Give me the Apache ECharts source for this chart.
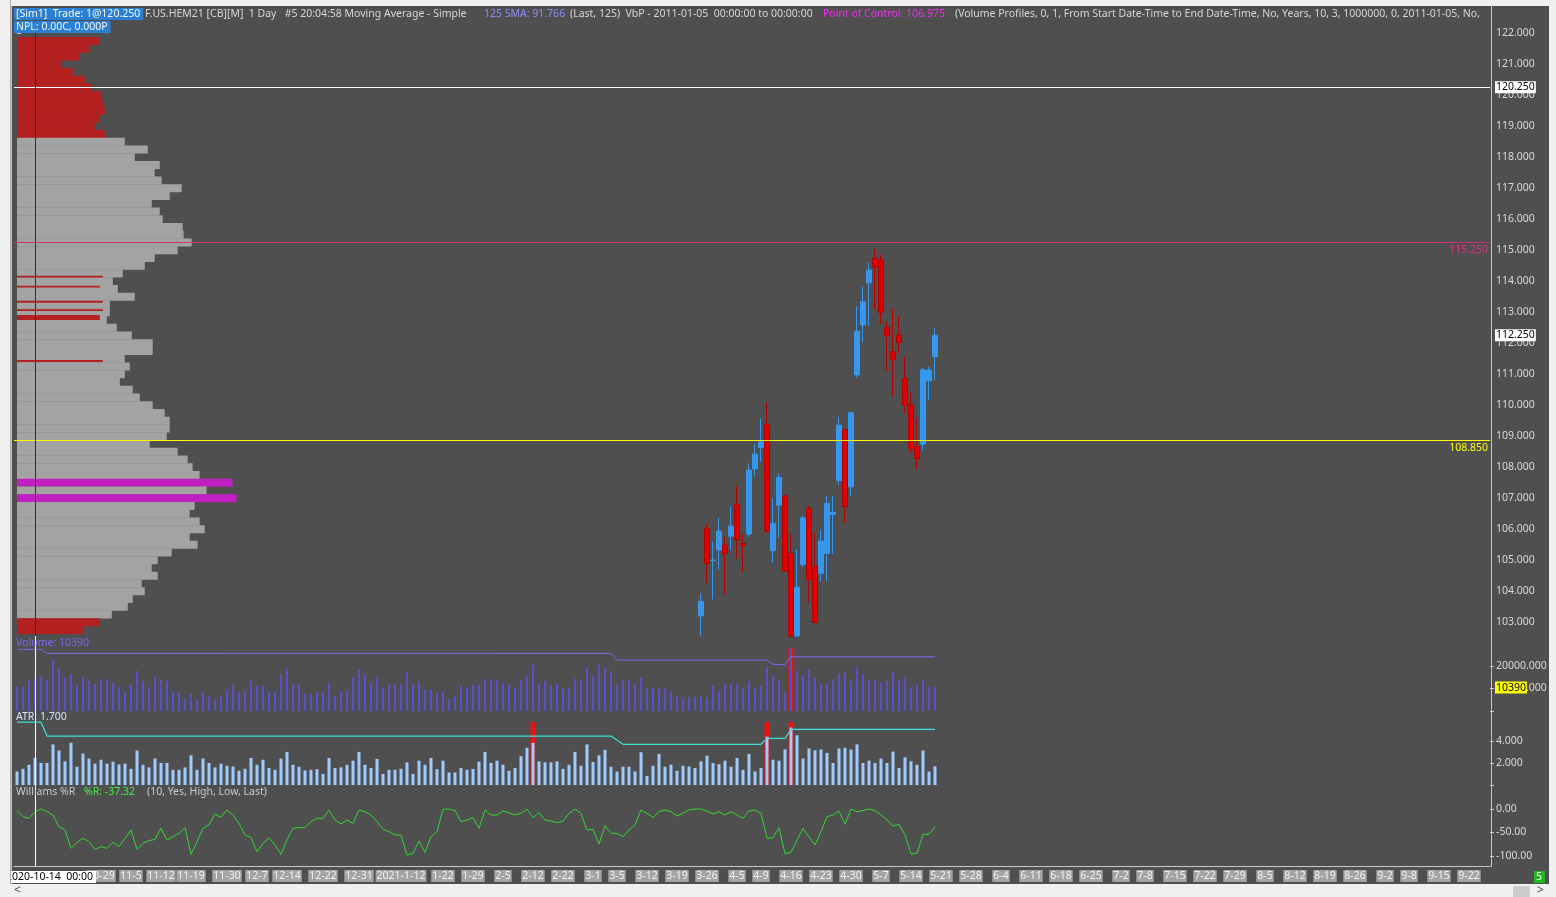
<!DOCTYPE html>
<html>
<head>
<meta charset="utf-8">
<title>F.US.HEM21 [CB][M] 1 Day</title>
<script src="https://cdn.jsdelivr.net/npm/echarts@6/dist/echarts.min.js"></script>
<style>
  html, body { margin: 0; padding: 0; background: #f0f0f0; }
  #chart { width: 1556px; height: 897px; }
</style>
</head>
<body>
<div id="chart"></div>
<script>
// ====== data ======
const firstDay = '2020-10-09';
const lastDay = '2021-09-27';
const holidays = ['2020-11-26', '2020-12-25', '2021-01-01', '2021-01-18', '2021-02-15', '2021-04-02'];
const cursorDate = '2020-10-14';

// x-axis labels (dates shown on the time scale)
const tickDates = ['2020-10-29', '2020-11-05', '2020-11-12', '2020-11-19', '2020-11-30', '2020-12-07', '2020-12-14',
  '2020-12-22', '2020-12-31', '2021-01-12', '2021-01-22', '2021-01-29', '2021-02-05', '2021-02-12', '2021-02-22',
  '2021-03-01', '2021-03-05', '2021-03-12', '2021-03-19', '2021-03-26', '2021-04-05', '2021-04-09', '2021-04-16',
  '2021-04-23', '2021-04-30', '2021-05-07', '2021-05-14', '2021-05-21', '2021-05-28', '2021-06-04', '2021-06-11',
  '2021-06-18', '2021-06-25', '2021-07-02', '2021-07-08', '2021-07-15', '2021-07-22', '2021-07-29', '2021-08-05',
  '2021-08-12', '2021-08-19', '2021-08-26', '2021-09-02', '2021-09-08', '2021-09-15', '2021-09-22'];
const tickLabels = ['10-29', '11-5', '11-12', '11-19', '11-30', '12-7', '12-14', '12-22', '12-31', '2021-1-12',
  '1-22', '1-29', '2-5', '2-12', '2-22', '3-1', '3-5', '3-12', '3-19', '3-26', '4-5', '4-9', '4-16', '4-23', '4-30',
  '5-7', '5-14', '5-21', '5-28', '6-4', '6-11', '6-18', '6-25', '7-2', '7-8', '7-15', '7-22', '7-29', '8-5', '8-12',
  '8-19', '8-26', '9-2', '9-8', '9-15', '9-22'];

// visible daily candles: [open, close, low, high]
const candleDates = ['2021-03-25', '2021-03-26', '2021-03-29', '2021-03-30', '2021-03-31', '2021-04-01', '2021-04-05',
  '2021-04-06', '2021-04-07', '2021-04-08', '2021-04-09', '2021-04-12', '2021-04-13', '2021-04-14', '2021-04-15',
  '2021-04-16', '2021-04-19', '2021-04-20', '2021-04-21', '2021-04-22', '2021-04-23', '2021-04-26', '2021-04-27',
  '2021-04-28', '2021-04-29', '2021-04-30', '2021-05-03', '2021-05-04', '2021-05-05', '2021-05-06', '2021-05-07',
  '2021-05-10', '2021-05-11', '2021-05-12', '2021-05-13', '2021-05-14', '2021-05-17', '2021-05-18', '2021-05-19',
  '2021-05-20'];
const candles = [
  [103.20, 103.67, 102.55, 103.92], [106.02, 104.89, 104.25, 106.16], [104.98, 105.00, 103.73, 105.59],
  [105.32, 105.93, 104.70, 106.36], [105.48, 105.21, 103.89, 105.75], [105.77, 106.09, 105.34, 106.72],
  [106.79, 105.66, 105.05, 107.38], [105.53, 105.46, 104.59, 105.84], [105.84, 107.90, 105.75, 108.12],
  [107.94, 108.41, 107.69, 108.76], [108.63, 108.81, 108.17, 109.55], [109.37, 105.93, 105.88, 110.10],
  [105.30, 106.18, 104.91, 106.99], [106.77, 107.66, 105.72, 107.79], [107.07, 104.65, 104.62, 107.09],
  [105.21, 102.55, 102.52, 105.84], [102.55, 104.12, 102.52, 105.34], [104.86, 106.36, 104.78, 106.42],
  [106.66, 104.37, 103.65, 106.74], [104.80, 102.99, 102.98, 105.89], [104.57, 105.61, 104.32, 105.97],
  [105.21, 106.83, 104.32, 107.06], [106.47, 106.54, 105.21, 107.06], [107.56, 109.35, 107.42, 109.62],
  [109.21, 106.72, 106.20, 109.23], [107.36, 109.75, 107.06, 109.75], [110.97, 112.38, 110.89, 113.19],
  [112.58, 113.33, 112.01, 113.81], [113.94, 114.35, 112.55, 114.59], [114.73, 114.46, 113.08, 115.02],
  [114.68, 112.99, 112.61, 114.84], [112.50, 112.23, 111.10, 112.69], [111.72, 111.47, 110.27, 113.12],
  [112.25, 112.02, 111.66, 112.88], [110.86, 110.00, 109.73, 111.56], [110.00, 108.60, 108.46, 110.41],
  [108.67, 108.28, 107.92, 109.59], [108.74, 111.13, 108.52, 111.20], [110.78, 111.13, 110.16, 111.23],
  [111.56, 112.25, 110.80, 112.50]];

// daily volume (thousands of contracts) from 2020-10-09
const volumes = [
  10.8, 10.8, 13.8, 14.5, 15.5, 13.8, 22.9, 18.9, 14.8, 16.4,
  11.5, 14.8, 13.5, 12.0, 14.1, 14.1, 12.6, 10.8, 8.9, 11.8,
  17.8, 13.3, 10.8, 15.0, 14.1, 13.3, 8.9, 8.3, 5.6, 7.5,
  5.2, 8.3, 6.7, 5.2, 6.8, 9.3, 12.0, 8.6, 9.0, 13.5,
  11.5, 11.1, 8.9, 8.9, 16.7, 18.9, 11.8, 12.0, 7.8, 7.8,
  8.6, 8.6, 12.6, 6.7, 8.6, 9.3, 14.8, 18.5, 16.3, 12.6,
  15.2, 10.4, 11.8, 11.8, 11.8, 17.2, 11.8, 13.0, 9.6, 9.8,
  7.8, 8.9, 5.6, 6.4, 11.1, 10.4, 11.8, 11.6, 14.1, 14.1,
  13.8, 12.6, 11.8, 10.4, 13.8, 15.7, 20.7, 12.3, 13.5, 11.5,
  12.3, 10.1, 10.5, 14.3, 14.1, 19.4, 15.7, 20.7, 18.9, 17.8,
  11.8, 13.8, 13.8, 11.8, 14.8, 10.1, 10.1, 10.1, 10.1, 9.0,
  6.7, 5.6, 6.4, 6.1, 6.7, 6.0, 11.3, 8.9, 11.8, 12.3,
  12.0, 10.1, 13.0, 10.1, 11.3, 19.7, 15.7, 13.8, 8.3, 27.8,
  17.8, 15.7, 18.2, 14.8, 12.3, 11.8, 13.5, 16.7, 17.2, 13.5,
  19.4, 16.4, 13.8, 13.8, 12.7, 13.3, 17.2, 13.8, 15.2, 10.5,
  11.3, 13.8, 10.8, 10.39];
const lastVolume = 10.39;
const volumeAvg = [['2020-10-09', 27.4], ['2020-10-15', 27.4], ['2020-10-16', 25.6], ['2021-03-04', 25.6],
  ['2021-03-05', 22.6], ['2021-04-12', 22.6], ['2021-04-13', 20.7], ['2021-04-15', 20.7], ['2021-04-16', 24.1],
  ['2021-05-20', 24.1]];
const volumeFlags = ['2021-04-16'];
const volumeFlagTop = 28.0;

// true range bars and ATR line
const atrBars = [
  1.23, 1.47, 1.84, 2.46, 2.00, 2.00, 3.69, 3.13, 2.15, 3.84,
  1.66, 2.86, 2.40, 1.94, 2.30, 1.94, 2.12, 1.87, 1.94, 1.47,
  3.13, 1.84, 1.60, 2.40, 2.00, 2.00, 1.38, 1.38, 1.60, 2.70,
  1.38, 2.40, 2.00, 1.60, 1.94, 1.75, 1.69, 1.29, 1.47, 2.46,
  1.84, 2.30, 1.54, 1.38, 2.40, 3.01, 1.84, 1.66, 1.32, 1.38,
  1.44, 1.01, 2.46, 1.54, 1.60, 1.84, 2.21, 3.01, 1.84, 1.54,
  2.37, 1.01, 1.38, 1.38, 1.47, 2.06, 1.01, 2.21, 1.84, 2.46,
  1.44, 2.21, 1.14, 1.14, 1.54, 1.38, 1.46, 2.12, 3.01, 2.00,
  2.21, 1.84, 1.29, 1.54, 2.61, 3.38, 3.84, 2.15, 2.06, 2.06,
  2.15, 1.47, 1.84, 3.01, 1.75, 3.69, 2.09, 2.70, 3.19, 1.66,
  1.23, 1.66, 1.66, 1.23, 2.98, 0.83, 1.75, 2.83, 1.66, 1.84,
  1.29, 1.75, 1.69, 1.54, 2.15, 2.67, 2.00, 1.90, 2.21, 1.66,
  2.46, 1.38, 2.83, 1.23, 1.54, 4.39, 2.30, 2.21, 3.23, 5.23,
  4.52, 2.40, 3.32, 3.16, 3.23, 2.92, 2.00, 3.32, 3.38, 3.23,
  3.69, 2.00, 2.21, 2.00, 2.40, 2.00, 3.04, 1.54, 2.52, 2.15,
  1.84, 3.13, 1.23, 1.70];
const atrAvg = [['2020-10-09', 5.71], ['2020-10-15', 5.71], ['2020-10-16', 4.45], ['2021-03-04', 4.45],
  ['2021-03-08', 3.70], ['2021-04-09', 3.70], ['2021-04-12', 4.24], ['2021-04-15', 4.24], ['2021-04-16', 5.06],
  ['2021-05-20', 5.06]];
const atrFlags = ['2021-02-12', '2021-04-12', '2021-04-16'];
const atrFlagTop = 5.73;

// Williams %R (10)
const williams = [
  -3.5, -16.3, -19.9, -5.7, -0.1, -5.7, -12.8, -37.6, -44.7, -83.7,
  -70.9, -62.4, -69.5, -85.8, -80.1, -83.7, -70.9, -80.1, -62.4, -44.7,
  -85.8, -73.0, -67.4, -64.5, -41.1, -66.0, -58.9, -51.8, -39.7, -96.5,
  -69.5, -41.1, -34.0, -10.6, -17.7, -2.1, -12.8, -30.5, -55.3, -60.3,
  -90.8, -73.0, -61.0, -76.6, -96.5, -66.0, -41.1, -39.7, -39.7, -27.0,
  -19.9, -19.9, -2.1, -23.4, -31.9, -23.4, -30.5, -2.1, -5.7, -12.8,
  -27.0, -42.6, -48.2, -55.3, -55.3, -97.9, -94.3, -68.1, -92.2, -58.9,
  -48.2, -0.7, -0.1, -3.5, -27.0, -23.4, -18.4, -41.0, -2.1, -12.8,
  -12.8, -4.3, -7.8, -12.8, -9.2, -0.1, -18.4, -7.8, -23.4, -25.5,
  -29.1, -25.5, -9.2, -0.1, -9.2, -44.7, -43.3, -74.5, -35.5, -51.8,
  -51.8, -58.9, -44.7, -34.0, -2.1, -9.2, -17.7, -5.7, -2.1, -5.7,
  -14.9, -9.2, -2.1, -0.1, -0.1, -4.3, -10.6, -5.7, -12.8, -5.7,
  -12.8, -19.9, -4.3, -2.1, -9.2, -62.4, -61.0, -39.7, -95.7, -92.2,
  -66.0, -41.1, -58.9, -76.6, -48.2, -16.3, -12.8, -4.3, -32.6, -0.1,
  -5.7, -3.5, -0.1, -3.5, -12.8, -23.4, -36.2, -32.6, -55.3, -95.7,
  -94.3, -53.9, -53.9, -37.32];

// volume by price (thousands), rows 0.25 wide
const profileStep = 0.25;
const profilePrices = [121.75, 121.5, 121.25, 121, 120.75, 120.5, 120.25, 120, 119.75, 119.5, 119.25, 119, 118.75,
  118.5, 118.25, 118, 117.75, 117.5, 117.25, 117, 116.75, 116.5, 116.25, 116, 115.75, 115.5, 115.25, 115, 114.75,
  114.5, 114.25, 114, 113.75, 113.5, 113.25, 113, 112.75, 112.5, 112.25, 112, 111.75, 111.5, 111.25, 111, 110.75,
  110.5, 110.25, 110, 109.75, 109.5, 109.25, 109, 108.75, 108.5, 108.25, 108, 107.75, 107.5, 107.25, 107, 106.75,
  106.5, 106.25, 106, 105.75, 105.5, 105.25, 105, 104.75, 104.5, 104.25, 104, 103.75, 103.5, 103.25, 103, 102.75];
const profileVols = [8.3, 7.3, 6.3, 4.5, 5.6, 6.8, 7.5, 8.5, 8.6, 8.8, 8.3, 7.8, 8.8,
  10.8, 13.1, 11.8, 14.3, 13.8, 14.5, 16.5, 15.3, 13.5, 14.3, 14.6, 16.6, 16.7, 17.5, 16.1, 13.8,
  12.8, 10.6, 9.6, 10.1, 11.8, 9.3, 9.3, 9.0, 10.0, 11.5, 13.6, 13.6, 10.8, 11.3, 10.8, 10.3,
  11.6, 12.3, 13.6, 14.8, 15.3, 15.3, 15.0, 13.3, 16.1, 17.1, 17.6, 18.3, 21.6, 19.0, 22.0, 17.8,
  17.3, 18.3, 18.8, 17.3, 18.1, 15.5, 14.1, 13.5, 14.1, 12.5, 12.8, 11.6, 11.1, 9.5, 8.3, 6.6];
const profileRedAbove = 118.75;
const profileRedBelow = 103.0;
const profilePocRows = [107.5, 107.0];
// thin highlighted price rows: [low, high, volume]
const profileMarks = [[114.11, 114.17, 8.6], [113.79, 113.85, 8.3], [113.30, 113.36, 8.6], [113.03, 113.09, 8.6],
  [112.74, 112.90, 8.3], [111.39, 111.45, 8.6]];

// horizontal price levels
const tradePrice = 120.25;
const highLevel = 115.25;
const lowLevel = 108.85;
const lastPrice = 112.25;

// ====== build ======
function buildDays() {
  const out = [];
  const d = new Date(firstDay + 'T00:00:00Z');
  const end = new Date(lastDay + 'T00:00:00Z').getTime();
  while (d.getTime() <= end) {
    const s = d.toISOString().slice(0, 10);
    const wd = d.getUTCDay();
    if (wd !== 0 && wd !== 6 && !holidays.includes(s)) out.push(s);
    d.setUTCDate(d.getUTCDate() + 1);
  }
  return out;
}

const categories = buildDays();
const candleData = categories.map(d => {
  const k = candleDates.indexOf(d);
  return k < 0 ? '-' : candles[k];
});
const volFlagData = categories.map(d => volumeFlags.includes(d) ? volumeFlagTop : '-');
const atrFlagData = categories.map(d => atrFlags.includes(d) ? atrFlagTop : '-');
const isTick = (i, v) => tickDates.includes(v);

const FONT = '"Noto Sans", "DejaVu Sans", sans-serif';
const L = 14, R = 66;
const CLEAR = 'rgba(0,0,0,0)';

const hiddenCat = (gridIndex, position) => ({
  type: 'category', gridIndex, data: categories, boundaryGap: true, show: false, position: position || 'bottom'
});
const rightAxis = (gridIndex, min, max, interval, fmt) => ({
  type: 'value', gridIndex, position: 'right', min, max, interval,
  splitLine: { show: false }, axisLine: { show: false },
  axisTick: { show: true, length: 4, lineStyle: { color: '#cfcfcf' } },
  axisLabel: { formatter: fmt, color: '#d8d8d8', fontSize: 10.5, fontFamily: FONT, margin: 6 }
});

function profileColor(p) {
  if (profilePocRows.includes(p)) return '#c21fc2';
  if (p >= profileRedAbove || p <= profileRedBelow) return '#b3201f';
  return '#a3a3a3';
}

const chart = echarts.init(document.getElementById('chart'));

const txt = (x, y, text, fill, size, extra) => Object.assign({
  type: 'text', x, y, z: 60,
  style: { text, fill, font: size + 'px ' + FONT, verticalAlign: 'middle' }
}, extra || {});
const boxTxt = (x, y, text, fill, bg, size, pad) => ({
  type: 'text', x, y, z: 60,
  style: { text, fill, font: size + 'px ' + FONT, verticalAlign: 'middle', backgroundColor: bg, padding: pad || [1, 3, 0, 2] }
});
const strip = (x, y, w, h, fill) => ({ type: 'rect', z: 100, shape: { x, y, width: w, height: h }, style: { fill } });
const boxLabel = (text, bg) => ({
  position: 'end', distance: 5, formatter: text, color: '#000', backgroundColor: bg,
  padding: [1, 1, 0, 1], fontFamily: FONT, fontSize: 10.5
});

const option = {
  animation: false,
  backgroundColor: '#4f4f4f',
  grid: [
    { left: L, right: R, top: 33, height: 589 },   // price
    { left: L, right: R, top: 666, height: 45 },   // volume
    { left: L, right: R, top: 741, height: 44 },   // ATR
    { left: L, right: R, top: 809, height: 47 },   // Williams %R
    { left: L, right: R, top: 8, height: 858 }     // time scale + cursor
  ],
  xAxis: [
    hiddenCat(0),
    { type: 'value', gridIndex: 0, min: -0.3, max: 147.6, show: false, position: 'top' },
    hiddenCat(1), hiddenCat(1, 'top'),
    hiddenCat(2), hiddenCat(2, 'top'),
    hiddenCat(3),
    {
      type: 'category', gridIndex: 4, data: categories, boundaryGap: true,
      axisLine: { lineStyle: { color: '#c8c8c8' } },
      axisTick: { interval: isTick, alignWithLabel: true, length: 4, lineStyle: { color: '#c8c8c8' } },
      axisLabel: {
        interval: isTick, formatter: v => tickLabels[tickDates.indexOf(v)],
        color: '#f2f2f2', backgroundColor: '#a4a4a4', padding: [1, 1, 0, 1],
        fontSize: 10.5, fontFamily: FONT, margin: 4
      },
      splitLine: { show: false }
    }
  ],
  yAxis: [
    rightAxis(0, 103, 122, 1, v => v.toFixed(3)),
    rightAxis(1, 0, 20, 10, v => v === 0 ? '' : (v * 1000).toFixed(3)),
    rightAxis(2, 0, 4, 2, v => v === 0 ? '' : v.toFixed(3)),
    rightAxis(3, -100, 0, 50, v => v.toFixed(2)),
    { type: 'value', gridIndex: 4, min: 0, max: 1, show: false }
  ],
  series: [
    {
      name: 'Volume Profile', type: 'custom', xAxisIndex: 1, yAxisIndex: 0, silent: true, z: 1,
      encode: { x: 0, y: 1 },
      data: profilePrices.map((p, i) => [profileVols[i], p]),
      renderItem(params, api) {
        const v = api.value(0), p = api.value(1);
        const a = api.coord([0, p + profileStep / 2]);
        const b = api.coord([v, p - profileStep / 2]);
        return { type: 'rect', shape: { x: a[0], y: a[1], width: b[0] - a[0], height: b[1] - a[1] + 0.4 },
          style: { fill: profileColor(p) } };
      }
    },
    {
      name: 'Profile marks', type: 'custom', xAxisIndex: 1, yAxisIndex: 0, silent: true, z: 1,
      encode: { x: 2, y: [0, 1] },
      data: profileMarks,
      renderItem(params, api) {
        const a = api.coord([0, api.value(1)]);
        const b = api.coord([api.value(2), api.value(0)]);
        return { type: 'rect', shape: { x: a[0], y: a[1], width: b[0] - a[0], height: Math.max(1.5, b[1] - a[1]) },
          style: { fill: '#b3201f' } };
      }
    },
    {
      name: 'F.US.HEM21', type: 'candlestick', xAxisIndex: 0, yAxisIndex: 0, z: 3, clip: false,
      barWidth: 5, data: candleData,
      itemStyle: { color: '#3598ee', color0: '#e00000', borderColor: '#3598ee', borderColor0: '#b40000', borderWidth: 1 },
      markLine: {
        symbol: 'none', silent: true, animation: false,
        label: { fontFamily: FONT, fontSize: 10.5 },
        data: [
          { yAxis: tradePrice, lineStyle: { color: '#ffffff', width: 1, type: 'solid' },
            label: boxLabel(tradePrice.toFixed(3), '#ffffff') },
          { yAxis: highLevel, lineStyle: { color: '#cc3377', width: 1, type: 'solid' },
            label: { position: 'insideEndBottom', distance: 2, formatter: highLevel.toFixed(3), color: '#dd3388' } },
          { yAxis: lowLevel, lineStyle: { color: '#ffff00', width: 1, type: 'solid' },
            label: { position: 'insideEndBottom', distance: 2, formatter: lowLevel.toFixed(3), color: '#ffff00' } },
          { yAxis: lastPrice, lineStyle: { color: CLEAR, width: 1 },
            label: boxLabel(lastPrice.toFixed(3), '#ffffff') }
        ]
      }
    },
    {
      name: 'Volume flag', type: 'bar', xAxisIndex: 3, yAxisIndex: 1, barWidth: 5, clip: false, z: 2,
      data: volFlagData, itemStyle: { color: '#ee1111' }, silent: true
    },
    {
      name: 'Volume', type: 'bar', xAxisIndex: 2, yAxisIndex: 1, barWidth: 2, clip: false, z: 3,
      data: volumes, itemStyle: { color: '#5a4ecb' }, silent: true
    },
    {
      name: 'Volume MA', type: 'line', xAxisIndex: 2, yAxisIndex: 1, symbol: 'none', clip: false, z: 4,
      data: volumeAvg, lineStyle: { color: '#7b68ee', width: 1 }, silent: true,
      markLine: {
        symbol: 'none', silent: true, animation: false,
        data: [{ yAxis: lastVolume, lineStyle: { color: CLEAR, width: 1 },
          label: boxLabel(String(Math.round(lastVolume * 1000)), '#ffff00') }]
      }
    },
    {
      name: 'ATR flag', type: 'bar', xAxisIndex: 5, yAxisIndex: 2, barWidth: 5, clip: false, z: 2,
      data: atrFlagData, itemStyle: { color: '#ee1111' }, silent: true
    },
    {
      name: 'True Range', type: 'bar', xAxisIndex: 4, yAxisIndex: 2, barWidth: 3, clip: false, z: 3,
      data: atrBars, itemStyle: { color: '#9fcbff' }, silent: true
    },
    {
      name: 'ATR', type: 'line', xAxisIndex: 4, yAxisIndex: 2, symbol: 'none', clip: false, z: 4,
      data: atrAvg, lineStyle: { color: '#3ee0d8', width: 1.2 }, silent: true
    },
    {
      name: 'Williams %R', type: 'line', xAxisIndex: 6, yAxisIndex: 3, symbol: 'none', clip: false, z: 4,
      data: williams, lineStyle: { color: '#33d633', width: 1 }, silent: true
    },
    {
      name: 'Cursor', type: 'line', xAxisIndex: 7, yAxisIndex: 4, data: [], z: 5, silent: true,
      markLine: {
        symbol: 'none', silent: true, animation: false, label: { show: false },
        data: [
          [{ coord: [cursorDate, 0.268], lineStyle: { color: '#2e2e2e', width: 1, type: 'solid' } }, { coord: [cursorDate, 1] }],
          [{ coord: [cursorDate, 0], lineStyle: { color: '#ffffff', width: 1, type: 'solid' } }, { coord: [cursorDate, 0.268] }]
        ]
      }
    }
  ],
  graphic: [
    // header
    boxTxt(14, 14, '[Sim1]  Trade: 1@120.250', '#f4f4f4', '#2b80d3', 10.5, [1, 3, 0, 2]),
    txt(145, 14, 'F.US.HEM21 [CB][M]  1 Day   #5 20:04:58 Moving Average - Simple', '#d6d6d6', 10.5),
    txt(484, 14, '125 SMA: 91.766', '#8c8cff', 10.5),
    txt(570, 14, '(Last, 125)  VbP - 2011-01-05  00:00:00 to 00:00:00', '#d6d6d6', 10.5),
    txt(823, 14, 'Point of Control: 106.975', '#f030f0', 10.5),
    txt(955, 14, '(Volume Profiles, 0, 1, From Start Date-Time to End Date-Time, No, Years, 10, 3, 1000000, 0, 2011-01-05, No,', '#d6d6d6', 10.5),
    boxTxt(14, 27, 'NPL: 0.00C, 0.000P', '#f4f4f4', '#2b80d3', 10.5, [1, 3, 0, 2]),
    // panel titles
    txt(16, 643, 'Volume: 10390', '#7b68ee', 10.5),
    txt(16, 717, 'ATR: 1.700', '#d0e2ff', 10.5),
    txt(16, 792, 'Williams %R', '#c8c8c8', 10.5),
    txt(84, 792, '%R: -37.32', '#3fef3f', 10.5),
    txt(147, 792, '(10, Yes, High, Low, Last)', '#c8c8c8', 10.5),
    // cursor date label
    boxTxt(4, 877, '2020-10-14  00:00', '#000000', '#ffffff', 10.5),
    // frame
    strip(0, 0, 1556, 6, '#f0f0f0'),
    strip(0, 0, 11, 897, '#f0f0f0'),
    strip(1549, 0, 7, 897, '#f0f0f0'),
    strip(0, 884, 1556, 13, '#f0f0f0'),
    { type: 'line', z: 101, shape: { x1: 10.5, y1: 0, x2: 10.5, y2: 884 }, style: { stroke: '#a8a8a8', lineWidth: 1 } },
    { type: 'line', z: 55, shape: { x1: 11.5, y1: 6, x2: 11.5, y2: 884 }, style: { stroke: '#c4c4c4', lineWidth: 1 } },
    { type: 'line', z: 55, shape: { x1: 1491.5, y1: 6, x2: 1491.5, y2: 867 }, style: { stroke: '#c8c8c8', lineWidth: 1 } },
    { type: 'rect', z: 101, shape: { x: 1513, y: 886, width: 17, height: 11 }, style: { fill: '#cdcdcd' } },
    txt(14, 891, '<', '#404040', 12, { z: 102 }),
    txt(1537, 891, '>', '#404040', 12, { z: 102 }),
    boxTxt(1534, 877, '5', '#ffffff', '#22b822', 10.5)
  ]
};

chart.setOption(option);
window.addEventListener('resize', () => chart.resize());
</script>
</body>
</html>
